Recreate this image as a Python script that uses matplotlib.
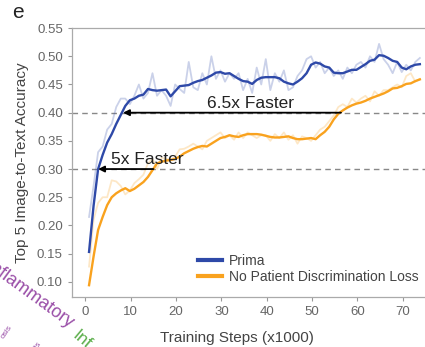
import numpy as np
import matplotlib
matplotlib.use('Agg')
import matplotlib.pyplot as plt

plt.rcParams['font.family'] = ['Liberation Sans', 'DejaVu Sans']

# training steps (x1000), one log point per ~1k steps
steps = np.arange(0.8, 74.0, 1.0)

prima_smooth = [
    0.153, 0.235, 0.300, 0.325, 0.347, 0.362, 0.380, 0.396, 0.412, 0.422,
    0.425, 0.430, 0.432, 0.442, 0.440, 0.439, 0.440, 0.441, 0.429, 0.438,
    0.447, 0.448, 0.449, 0.453, 0.456, 0.458, 0.462, 0.466, 0.471, 0.472,
    0.469, 0.470, 0.465, 0.460, 0.456, 0.455, 0.451, 0.458, 0.462, 0.463,
    0.463, 0.463, 0.461, 0.455, 0.452, 0.450, 0.455, 0.461, 0.470, 0.485,
    0.489, 0.487, 0.482, 0.480, 0.471, 0.470, 0.470, 0.473, 0.476, 0.476,
    0.481, 0.486, 0.492, 0.494, 0.502, 0.501, 0.497, 0.492, 0.490, 0.480,
    0.477, 0.482, 0.485, 0.486,
]
prima_raw = [
    0.215, 0.270, 0.330, 0.340, 0.370, 0.380, 0.410, 0.425, 0.425, 0.415,
    0.430, 0.450, 0.425, 0.435, 0.470, 0.430, 0.440, 0.430, 0.412, 0.450,
    0.442, 0.435, 0.490, 0.445, 0.440, 0.470, 0.450, 0.500, 0.460, 0.475,
    0.455, 0.470, 0.460, 0.470, 0.440, 0.460, 0.435, 0.480, 0.450, 0.495,
    0.440, 0.470, 0.455, 0.475, 0.440, 0.445, 0.465, 0.475, 0.495, 0.500,
    0.480, 0.490, 0.470, 0.480, 0.465, 0.475, 0.460, 0.480, 0.470, 0.485,
    0.490, 0.480, 0.500, 0.490, 0.522, 0.495, 0.485, 0.470, 0.490, 0.472,
    0.485, 0.475, 0.490, 0.497,
]
nopd_smooth = [
    0.094, 0.145, 0.192, 0.215, 0.236, 0.250, 0.257, 0.262, 0.266, 0.261,
    0.265, 0.271, 0.277, 0.286, 0.298, 0.310, 0.313, 0.315, 0.316, 0.318,
    0.322, 0.328, 0.332, 0.336, 0.339, 0.341, 0.340, 0.345, 0.350, 0.355,
    0.357, 0.360, 0.358, 0.357, 0.360, 0.362, 0.362, 0.362, 0.361, 0.359,
    0.357, 0.356, 0.356, 0.357, 0.358, 0.355, 0.353, 0.353, 0.354, 0.355,
    0.353, 0.360, 0.366, 0.375, 0.388, 0.398, 0.404, 0.409, 0.413, 0.416,
    0.418, 0.421, 0.425, 0.428, 0.431, 0.434, 0.438, 0.443, 0.444, 0.447,
    0.451, 0.452, 0.456, 0.459,
]
nopd_raw = [
    0.127, 0.210, 0.240, 0.250, 0.250, 0.280, 0.278, 0.270, 0.255, 0.262,
    0.275, 0.282, 0.290, 0.310, 0.318, 0.300, 0.320, 0.318, 0.316, 0.322,
    0.335, 0.336, 0.340, 0.345, 0.340, 0.335, 0.350, 0.355, 0.360, 0.365,
    0.355, 0.360, 0.352, 0.365, 0.355, 0.365, 0.360, 0.355, 0.360, 0.360,
    0.350, 0.362, 0.355, 0.365, 0.352, 0.360, 0.345, 0.358, 0.355, 0.350,
    0.360, 0.370, 0.375, 0.385, 0.395, 0.410, 0.415, 0.410, 0.425, 0.418,
    0.425, 0.430, 0.420, 0.438, 0.430, 0.440, 0.440, 0.445, 0.450, 0.445,
    0.465, 0.470, 0.455, 0.460,
]

# speed-up annotations: level, step where Prima hits it, step where baseline hits it
thresholds = [0.30, 0.40]
prima_hit = [2.8, 8.3]
nopd_hit = [15.0, 56.4]
speedup_labels = ['5x Faster', '6.5x Faster']
label_x = [13.6, 36.4]

blue = '#2E49A8'
orange = '#F9A21E'
grey = '#666666'

fig = plt.figure(figsize=(4.25, 3.47), dpi=100)
ax = fig.add_axes([0.169, 0.144, 0.853, 0.775])

ax.plot(steps, prima_raw, color=blue, alpha=0.25, lw=1.3)
ax.plot(steps, nopd_raw, color=orange, alpha=0.25, lw=1.3)
ax.plot(steps, prima_smooth, color=blue, lw=1.7, label='Prima')
ax.plot(steps, nopd_smooth, color=orange, lw=1.7, label='No Patient Discrimination Loss')

for y in thresholds:
    ax.axhline(y, color='#888888', ls=(0, (4, 3)), lw=1.0, zorder=0)

for y, x0, x1, lab, lx in zip(thresholds, prima_hit, nopd_hit, speedup_labels, label_x):
    ax.annotate('', xy=(x0, y), xytext=(x1, y),
                arrowprops=dict(arrowstyle='-|>', color='black', lw=1.3,
                                mutation_scale=9, shrinkA=0, shrinkB=0))
    ax.text(lx, y + 0.009, lab, ha='center', va='baseline',
            fontsize=12.5, color='#222222')

ax.set_xlim(-3, 77)
ax.set_ylim(0.073, 0.55)
ax.set_xticks(range(0, 71, 10))
ax.set_yticks(np.arange(0.10, 0.551, 0.05))
ax.set_yticklabels([f'{v:.2f}' for v in np.arange(0.10, 0.551, 0.05)])
ax.tick_params(colors='#999999', labelcolor=grey, labelsize=9.5, length=3, width=0.8)

for side in ['left', 'bottom', 'top', 'right']:
    ax.spines[side].set_color('#AAAAAA')
    ax.spines[side].set_linewidth(0.9)

ax.set_xlabel('Training Steps (x1000)', fontsize=11, color='#444444')
ax.xaxis.set_label_coords(0.455, -0.125)
ax.set_ylabel('Top 5 Image-to-Text Accuracy', fontsize=11, color='#444444', labelpad=6)

leg = ax.legend(loc='lower left', bbox_to_anchor=(0.348, 0.05), frameon=False,
                borderaxespad=0, borderpad=0, fontsize=10, handlelength=1.75,
                handletextpad=0.45, labelspacing=0.12)
for h in leg.get_lines():
    h.set_linewidth(3)
for t in leg.get_texts():
    t.set_color('#444444')

fig.text(0.042, 0.965, 'e', fontsize=15, color='#222222', ha='center', va='center')

# neighbouring word-cloud fragments bleeding in at the lower left
fig.text(-0.037, 0.229, 'Inflammatory', fontsize=13, color='#9A4FA8', rotation=-36,
         ha='left', va='baseline', rotation_mode='anchor')
fig.text(0.175, 0.038, 'Inf', fontsize=12.5, color='#5BAE4A', rotation=-40,
         ha='left', va='center', rotation_mode='anchor')
fig.text(0.005, 0.025, 'osis', fontsize=6, color='#9A4FA8', rotation=55,
         ha='left', va='center', rotation_mode='anchor')
fig.text(0.085, -0.005, 'tis', fontsize=6, color='#9A4FA8', rotation=55,
         ha='left', va='center', rotation_mode='anchor')

fig.savefig('out.png', dpi=100)
